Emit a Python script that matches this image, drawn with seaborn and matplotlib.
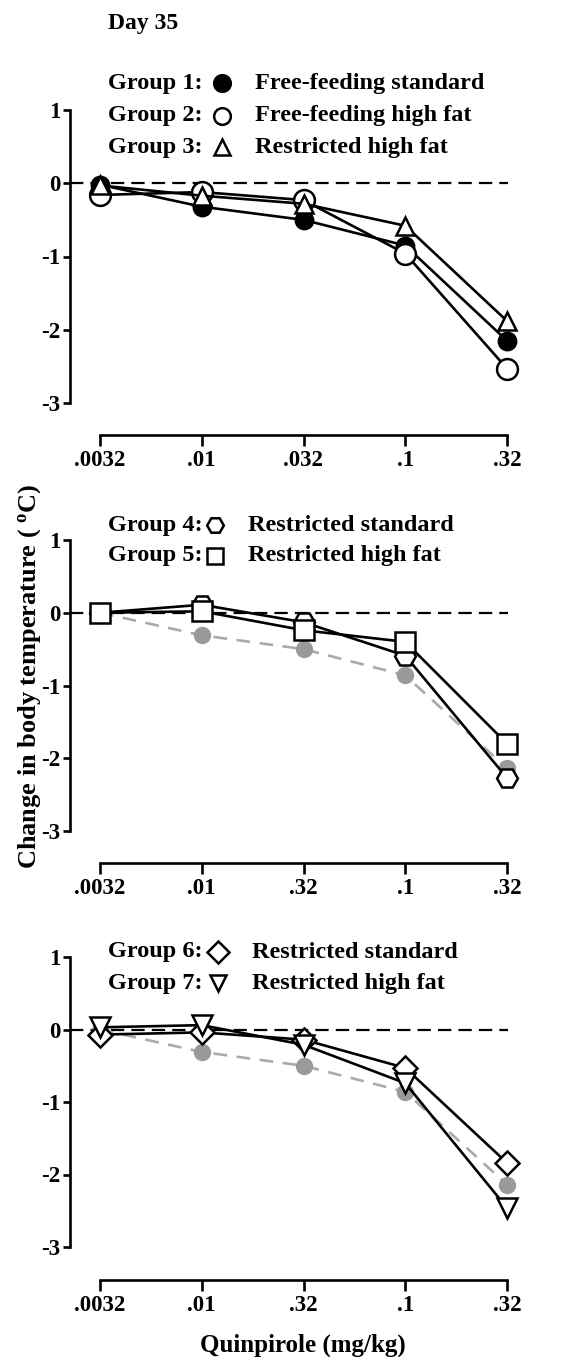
import numpy as np
import seaborn as sns
import matplotlib.pyplot as plt
import pandas as pd

# doses (categorical positions) and tick labels as printed
doses_top = [".0032", ".01", ".032", ".1", ".32"]
doses_low = [".0032", ".01", ".32", ".1", ".32"]

# panel 1
g1 = [-0.02, -0.32, -0.50, -0.85, -2.15]
g2 = [-0.16, -0.12, -0.23, -0.96, -2.53]
g3 = [-0.03, -0.17, -0.28, -0.58, -1.88]
g2_sem = [0.03, 0.05, 0.05, 0.13, 0.06]

# panel 2
ref = [0.0, -0.31, -0.50, -0.86, -2.14]
g4 = [0.0, 0.11, -0.13, -0.59, -2.27]
g5 = [0.0, 0.02, -0.24, -0.40, -1.80]
g4_sem = [0.08, 0.06, 0.05, 0.05, 0.11]

# panel 3
g6 = [-0.07, -0.04, -0.14, -0.53, -1.84]
g7 = [0.03, 0.06, -0.21, -0.74, -2.46]

sns.set_style("ticks")
plt.rcParams["font.family"] = ["Liberation Serif", "DejaVu Serif"]
plt.rcParams["font.weight"] = "bold"
plt.rcParams["axes.unicode_minus"] = False
plt.rcParams["mathtext.fontset"] = "custom"
plt.rcParams["mathtext.bf"] = "Liberation Serif:bold"
plt.rcParams["mathtext.rm"] = "Liberation Serif:bold"
for k in ["text.color", "axes.edgecolor", "axes.labelcolor", "xtick.color", "ytick.color"]:
    plt.rcParams[k] = "black"

W, H = 587, 1357
fig = plt.figure(figsize=(W / 100, H / 100), dpi=100)

def fx(px):
    return px / W

def fy(py):
    return 1 - py / H

def make_ax(top, bottom, xoff, labels):
    ax = fig.add_axes([fx(70), fy(bottom), fx(515) - fx(70), (bottom - top) / H])
    ax.set_xlim(-30 / 101.75, 4 + 8 / 101.75)
    ax.set_ylim(-3, 1)
    ax.set_yticks([1, 0, -1, -2, -3])
    ax.set_xticks(range(5))
    ax.set_xticklabels(labels)
    for s in ["top", "right"]:
        ax.spines[s].set_visible(False)
    ax.spines["left"].set_linewidth(1.9)
    ax.spines["bottom"].set_linewidth(1.9)
    ax.spines["bottom"].set_position(("outward", xoff * 0.72))
    ax.spines["bottom"].set_bounds(0, 4)
    ax.tick_params(axis="y", length=5, width=1.9, pad=2, labelsize=16.5)
    ax.tick_params(axis="x", length=8, width=1.9, pad=3, labelsize=16.5)
    for t in ax.get_xticklabels() + ax.get_yticklabels():
        t.set_fontweight("bold")
    ax.axhline(0, xmin=0, xmax=0.985, color="black", lw=1.6,
               linestyle=(0, (6, 3.2)), zorder=1)
    return ax

def series(ax, vals, marker, fill, ms=15, sem=None, z=3):
    df = pd.DataFrame({"dose": range(5), "dT": vals})
    if sem is not None:
        ax.errorbar(range(5), vals, yerr=sem, fmt="none", ecolor="black",
                    elinewidth=1.6, capsize=0, zorder=z - 0.5)
    sns.lineplot(data=df, x="dose", y="dT", ax=ax, color="black", lw=1.9,
                 marker=marker, markersize=ms, markerfacecolor=fill,
                 markeredgecolor="black", markeredgewidth=1.8,
                 clip_on=False, zorder=z)

def ref_series(ax):
    df = pd.DataFrame({"dose": range(5), "dT": ref})
    sns.lineplot(data=df, x="dose", y="dT", ax=ax, color="#aaaaaa", lw=1.9,
                 linestyle=(0, (5.2, 3.6)), marker="o", markersize=12.5,
                 markerfacecolor="#9a9a9a", markeredgecolor="#9a9a9a",
                 markeredgewidth=0, clip_on=False, zorder=2)

def legend_row(y, group, marker, fill, mx, tx, desc, ms=12):
    fig.text(fx(108), fy(y), group, fontsize=17.5, fontweight="bold",
             ha="left", va="center")
    fig.add_artist(plt.Line2D([fx(mx)], [fy(y)], marker=marker, markersize=ms,
                              markerfacecolor=fill, markeredgecolor="black",
                              markeredgewidth=1.8, linestyle="none",
                              transform=fig.transFigure))
    fig.text(fx(tx), fy(y), desc, fontsize=17.5, fontweight="bold",
             ha="left", va="center")

# panel 1
ax1 = make_ax(110, 403, 32, doses_top)
series(ax1, g1, "o", "black", ms=12.5, z=3)
series(ax1, g2, "o", "white", ms=15, sem=g2_sem, z=4)
series(ax1, g3, "^", "white", ms=13, z=5)
ax1.set_xlabel("")
ax1.set_ylabel("")

# panel 2
ax2 = make_ax(540, 831, 32, doses_low)
ref_series(ax2)
series(ax2, g4, "H", "white", ms=15, sem=g4_sem, z=3)
series(ax2, g5, "s", "white", ms=14, z=4)
ax2.set_xlabel("")
ax2.set_ylabel("")

# panel 3
ax3 = make_ax(957, 1247, 33, doses_low)
ref_series(ax3)
series(ax3, g6, "D", "white", ms=12.5, z=3)
series(ax3, g7, "v", "white", ms=14, z=4)
ax3.set_xlabel("")
ax3.set_ylabel("")

fig.text(fx(108), fy(24), "Day 35", fontsize=17, fontweight="bold",
         ha="left", va="center")
legend_row(83, "Group 1:", "o", "black", 222, 255, "Free-feeding standard")
legend_row(116, "Group 2:", "o", "white", 222, 255, "Free-feeding high fat")
legend_row(147, "Group 3:", "^", "white", 222, 255, "Restricted high fat", ms=12)
legend_row(525, "Group 4:", "H", "white", 215, 248, "Restricted standard", ms=12)
legend_row(556, "Group 5:", "s", "white", 215, 248, "Restricted high fat", ms=11.5)
legend_row(952, "Group 6:", "D", "white", 218, 252, "Restricted standard", ms=11)
legend_row(983, "Group 7:", "v", "white", 218, 252, "Restricted high fat", ms=12)

fig.text(fx(30), fy(676), "Change in body temperature ( $\\mathbf{^{o}}$C)",
         fontsize=19, fontweight="bold", rotation=90, ha="center", va="center")
fig.text(fx(303), fy(1345), "Quinpirole (mg/kg)", fontsize=18,
         fontweight="bold", ha="center", va="center")

fig.savefig("out.png", dpi=100, facecolor="white")
